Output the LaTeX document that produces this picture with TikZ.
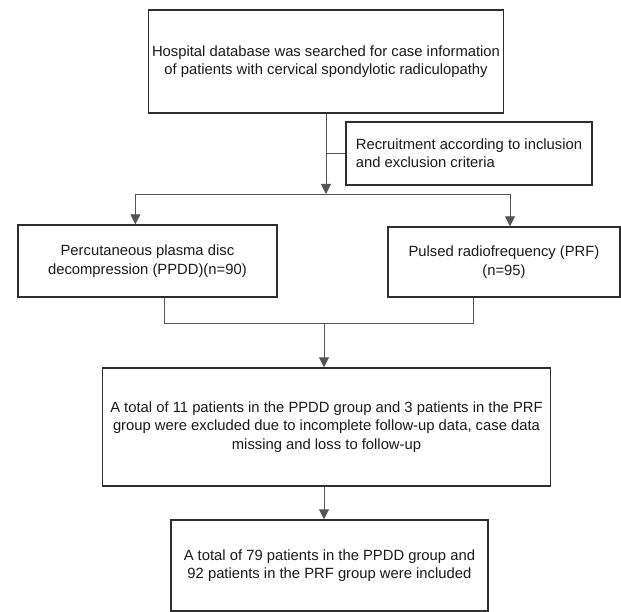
\documentclass[tikz,border=0pt]{standalone}
\usepackage{fontspec}
\setmainfont{Liberation Sans}
\usepackage{tikz}
\usetikzlibrary{arrows.meta}

\definecolor{boxline}{HTML}{2E2E2E}
\definecolor{connline}{HTML}{555555}

\begin{document}
\begin{tikzpicture}[x=1pt, y=-1pt,
	box/.style={rectangle, draw=boxline, line width=1.4pt, align=center,
		font=\fontsize{14.8}{18.4}\selectfont, text=black!90},
	conn/.style={draw=connline, line width=0.9pt},
	arr/.style={conn, -{Triangle[length=10pt,width=10pt]}}]
	
	\useasboundingbox (0,0) rectangle (621,612);
	
	\node[box, minimum width=355pt, minimum height=103pt] (hosp) at (326,61.5)
	{Hospital database was searched for case information\\of patients with cervical spondylotic radiculopathy};
	\node[box, align=left, minimum width=246pt, minimum height=63pt] (recruit) at (469,153.5)
	{Recruitment according to inclusion\\and exclusion criteria};
	\node[box, minimum width=259pt, minimum height=72pt] (ppdd) at (147.4,261)
	{Percutaneous plasma disc\\decompression (PPDD)(n=90)};
	\node[box, minimum width=232pt, minimum height=70pt] (prf) at (504,262)
	{Pulsed radiofrequency (PRF)\\(n=95)};
	\node[box, minimum width=448pt, minimum height=118pt] (excl) at (326.5,427)
	{A total of 11 patients in the PPDD group and 3 patients in the PRF\\group were excluded due to incomplete follow-up data, case data\\missing and loss to follow-up};
	\node[box, minimum width=317pt, minimum height=91pt] (incl) at (329.4,565.5)
	{A total of 79 patients in the PPDD group and\\92 patients in the PRF group were included};
	
	\coordinate (split) at (326,194);
	\coordinate (splitL) at (135.4,194);
	\coordinate (splitR) at (510,194);
	\coordinate (join) at (324,323);
	\coordinate (joinL) at (164,323);
	\coordinate (joinR) at (473.6,323);
	
	\path (hosp.south) edge[arr] (split)
	(hosp.south |- recruit.west) edge[conn] (recruit.west)
	(splitL) edge[conn] (splitR)
	(splitL) edge[arr] (splitL |- ppdd.north)
	(splitR) edge[arr] (splitR |- prf.north);
	\draw[conn] (joinL |- ppdd.south) -- (joinL) -- (joinR) -- (joinR |- prf.south);
	\draw[arr] (join) -- (join |- excl.north);
	\draw[arr] (join |- excl.south) -- (join |- incl.north);
\end{tikzpicture}
\end{document}
